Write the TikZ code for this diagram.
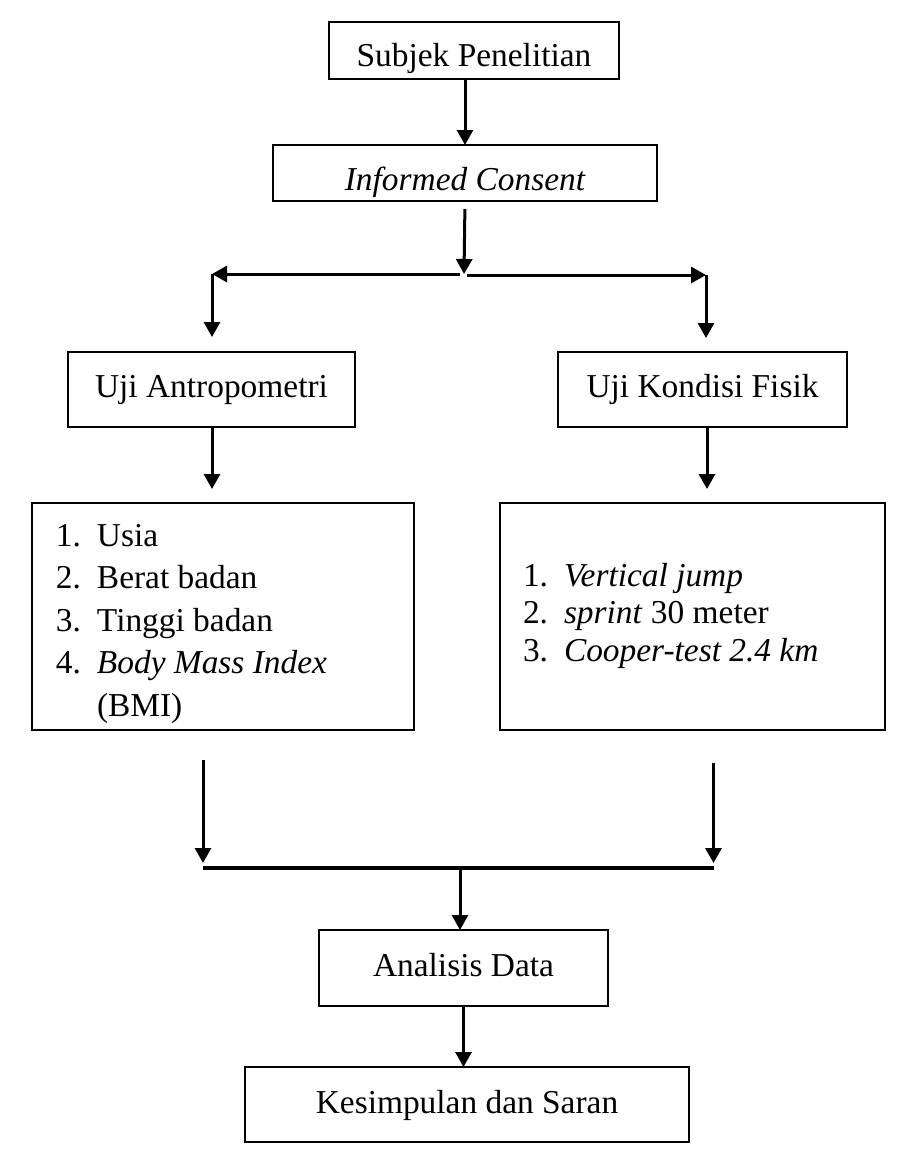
\documentclass[tikz,border=0pt]{standalone}
\usepackage{fontspec}
\setmainfont{Liberation Serif}
\usetikzlibrary{arrows.meta}
\begin{document}
\begin{tikzpicture}[x=1pt,y=-1pt,
  box/.style={draw, line width=2pt, inner sep=0pt, outer sep=0pt,
    font=\fontsize{33.4pt}{40pt}\selectfont, text depth=0pt},
  txt/.style={anchor=base west, inner sep=0pt, outer sep=0pt,
    font=\fontsize{33.4pt}{40pt}\selectfont},
  arr/.style={line width=3pt, -{Triangle[length=15pt,width=16pt]}},
  bar/.style={line width=4.5pt},
]
\useasboundingbox (0,0) rectangle (914,1163);
% boxes
\node[box, minimum width=290pt, minimum height=57pt, text height=32pt] (sub) at (474,50.8) {Subjek Penelitian};
\node[box, minimum width=384pt, minimum height=56pt, text height=34pt] (inf) at (465,173) {\itshape Informed Consent};
\node[box, minimum width=287pt, minimum height=75pt, text height=15pt] (ua) at (211.5,389.5) {Uji Antropometri};
\node[box, minimum width=289pt, minimum height=75pt, text height=15pt] (uk) at (702.5,389.5) {Uji Kondisi Fisik};
\node[box, minimum width=382pt, minimum height=227pt] (ll) at (223,616) {};
\node[box, minimum width=385pt, minimum height=227pt] (lr) at (692.5,616) {};
\node[box, minimum width=289pt, minimum height=76pt, text height=16pt] (ana) at (463.5,968) {Analisis Data};
\node[box, minimum width=444pt, minimum height=75pt, text height=17.6pt] (kes) at (467,1104.5) {Kesimpulan dan Saran};
% list texts
\node[txt] (l1) at (56,546) {\makebox[41pt][l]{1.}Usia};
\node[txt] (l2) at (56,588.5) {\makebox[41pt][l]{2.}Berat badan};
\node[txt] (l3) at (56,631) {\makebox[41pt][l]{3.}Tinggi badan};
\node[txt] (l4) at (56,673.5) {\makebox[41pt][l]{4.}\textit{Body Mass Index}};
\node[txt] (l5) at (97,716) {(BMI)};
\node[txt] (r1) at (523,586) {\makebox[41pt][l]{1.}\textit{Vertical jump}};
\node[txt] (r2) at (523,623.5) {\makebox[41pt][l]{2.}\textit{sprint} 30 meter};
\node[txt] (r3) at (523,661) {\makebox[41pt][l]{3.}\textit{Cooper-test 2.4 km}};
% junction coordinates
\coordinate (jc) at (464,274);
\coordinate (jl) at (460,274);
\coordinate (jr) at (467,275);
\coordinate (cl) at (212,274);
\coordinate (cr) at (706,275);
\coordinate (al) at (212,427);
\coordinate (ar) at (707,427);
\coordinate (bl) at (203,760);
\coordinate (br) at (713.5,763);
\coordinate (bl2) at (203,868);
\coordinate (br2) at (713.5,868);
\coordinate (bc) at (460,868);
% connectors
\draw[arr] (sub.south -| inf.north) -- (inf.north);
\draw[arr, shorten <=8pt] (inf.south) -- (jc);
\draw[arr] (jl) -- (cl);
\draw[arr] (jr) -- (cr);
\draw[arr, shorten >=15pt] (cl) -- (cl |- ua.north);
\draw[arr, shorten >=14pt] (cr) -- (cr |- uk.north);
\draw[arr, shorten >=13.5pt] (al) -- (al |- ll.north);
\draw[arr, shorten >=13.5pt] (ar) -- (ar |- lr.north);
\draw[arr, shorten >=5pt] (bl) -- (bl2);
\draw[arr, shorten >=5pt] (br) -- (br2);
\draw[bar] (bl2) -- (br2);
\draw[arr] (bc) -- (bc |- ana.north);
\draw[arr] (ana.south) -- (kes.north -| ana.south);
\end{tikzpicture}
\end{document}
